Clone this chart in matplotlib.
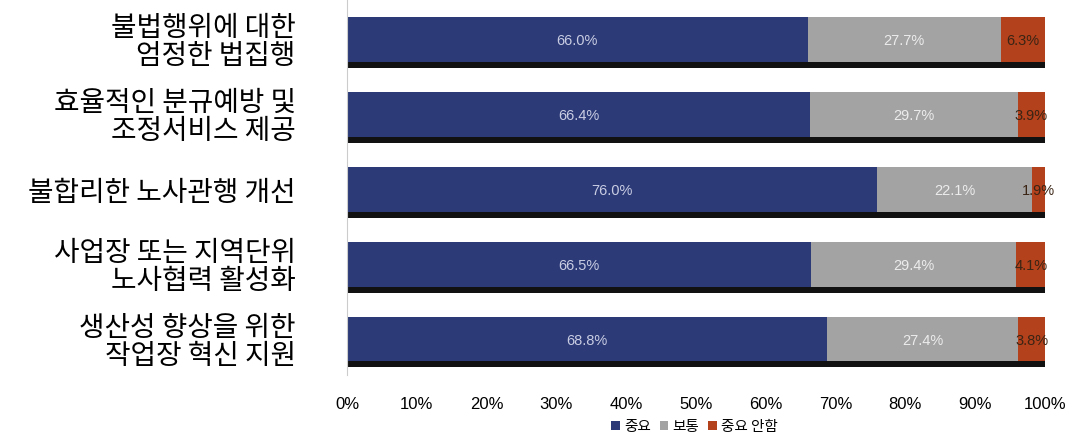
import numpy as np
import matplotlib.pyplot as plt

plt.rcParams['font.family'] = ['Noto Sans CJK KR', 'DejaVu Sans']

categories = ["불법행위에 대한\n엄정한 법집행",
              "효율적인 분규예방 및\n조정서비스 제공",
              "불합리한 노사관행 개선",
              "사업장 또는 지역단위\n노사협력 활성화",
              "생산성 향상을 위한\n작업장 혁신 지원"]
important = [66.0, 66.4, 76.0, 66.5, 68.8]
normal = [27.7, 29.7, 22.1, 29.4, 27.4]
not_important = [6.3, 3.9, 1.9, 4.1, 3.8]
series_names = ["중요", "보통", "중요 안함"]
xticks = [0, 10, 20, 30, 40, 50, 60, 70, 80, 90, 100]

colors = ["#2c3a78", "#a3a3a3", "#b2411c"]
text_colors = ["#c9cde2", "#ececec", "#3a2414"]

fig = plt.figure(figsize=(10.8, 4.36), dpi=100)
ax = fig.add_axes([0.3213, 0.14, 0.6463, 0.86])

y = np.arange(len(categories))
h = 0.6
total = np.array(important) + np.array(normal) + np.array(not_important)

# shadow under each bar
ax.barh(y + 0.08, total + 0.3, height=h, color="#111111", zorder=1)

left = np.zeros(len(categories))
for vals, c, tc, name in zip([important, normal, not_important], colors, text_colors, series_names):
    vals = np.array(vals)
    ax.barh(y, vals, left=left, height=h, color=c, label=name, zorder=2)
    for yi, l, v in zip(y, left, vals):
        ax.text(l + v / 2, yi + 0.02, f"{v:.1f}%", ha="center", va="center",
                color=tc, fontsize=10.5, family=["Liberation Sans"], zorder=3)
    left = left + vals

ax.set_xlim(0, 100)
ax.set_ylim(len(categories) - 0.52, -0.53)
ax.set_xticks(xticks)
ax.set_xticklabels([f"{t}%" for t in xticks], family=["Liberation Sans"], fontsize=12)
ax.set_yticks(y)
ax.set_yticklabels(categories, fontsize=20, linespacing=0.92, ha="right")
ax.tick_params(axis="y", length=0, pad=37)
ax.tick_params(axis="x", length=0, pad=16)
for s in ["top", "right", "bottom"]:
    ax.spines[s].set_visible(False)
ax.spines["left"].set_color("#cccccc")

fig.legend(loc="lower center", bbox_to_anchor=(0.643, -0.025), ncol=3, frameon=False,
           fontsize=10.5, handlelength=0.6, handleheight=0.6, handletextpad=0.3,
           columnspacing=0.6)

fig.savefig("out.png", dpi=100)
